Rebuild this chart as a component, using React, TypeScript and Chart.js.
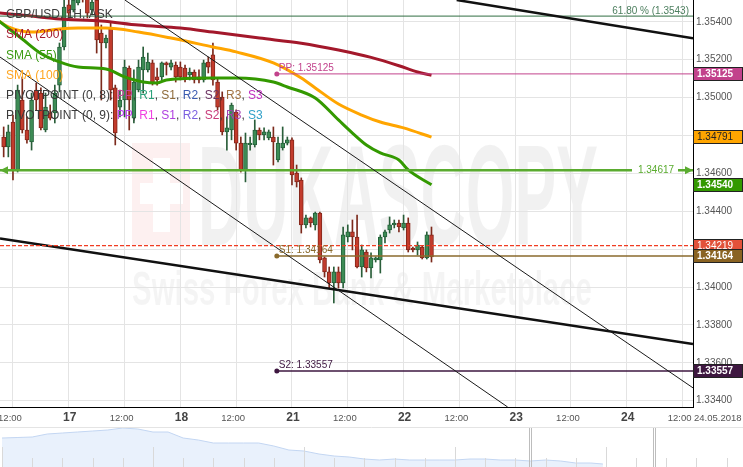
import { useEffect, useRef } from "react";
import { Chart, registerables } from "chart.js";

Chart.register(...registerables);

const FONT = "Arial, 'Liberation Sans', Helvetica, sans-serif";

// ---------- DATA ----------
// hour slots: slot 0 = 16 May 12:00 (weekend hours removed)
const firstCandleSlot = -2;
const candleOpen = [
  1.34792, 1.34739, 1.34871, 1.34618, 1.34987, 1.34829, 1.34766, 1.3504, 1.35024, 1.34829,
  1.34919, 1.34919, 1.35066, 1.35267, 1.35489, 1.35462, 1.35499, 1.35557, 1.35531, 1.35462,
  1.35515, 1.35341, 1.35288, 1.35367, 1.35051, 1.3495, 1.34987, 1.35156, 1.34892, 1.3504,
  1.35146, 1.35146, 1.35183, 1.35109, 1.35109, 1.35183, 1.35161, 1.35172, 1.35161, 1.35156,
  1.35119, 1.35135, 1.35109, 1.35093, 1.35188, 1.35225, 1.35082, 1.35003, 1.34819, 1.34829,
  1.34924, 1.3476, 1.34618, 1.3475, 1.3475, 1.34829, 1.34803, 1.34787, 1.34792, 1.34671,
  1.34734, 1.3476, 1.34777, 1.34602, 1.34565, 1.34328, 1.34365, 1.34328, 1.34391, 1.34154,
  1.3408, 1.34022, 1.3408, 1.34022, 1.34264, 1.34291, 1.34264, 1.34106, 1.34185, 1.34101,
  1.34143, 1.34143, 1.34264, 1.34301, 1.34328, 1.34338, 1.34312, 1.34338, 1.34206, 1.34196,
  1.34211, 1.34154, 1.34275,
];
const candleHigh = [
  1.34845, 1.34855, 1.34908, 1.35066, 1.35109, 1.34898, 1.35024, 1.35077, 1.35051, 1.35024,
  1.34961, 1.35066, 1.35288, 1.35541, 1.35531, 1.35557, 1.35568, 1.35578, 1.35557, 1.35536,
  1.35541, 1.35383, 1.3533, 1.35399, 1.35066, 1.3504, 1.35198, 1.35167, 1.35146, 1.35198,
  1.35267, 1.35235, 1.35198, 1.35156, 1.35188, 1.35188, 1.35198, 1.35188, 1.35188, 1.35172,
  1.35156, 1.35146, 1.35146, 1.35198, 1.35214, 1.35288, 1.35103, 1.3503, 1.34898, 1.34971,
  1.34935, 1.34792, 1.34813, 1.34792, 1.34882, 1.3484, 1.3484, 1.34829, 1.34845, 1.34792,
  1.34845, 1.34792, 1.34787, 1.34644, 1.34576, 1.3438, 1.3437, 1.34396, 1.34396, 1.34159,
  1.34106, 1.34106, 1.34106, 1.34317, 1.34328, 1.34354, 1.3438, 1.34222, 1.34196, 1.3418,
  1.34159, 1.34275, 1.34301, 1.3437, 1.34354, 1.34354, 1.3438, 1.34365, 1.34211, 1.34238,
  1.34216, 1.34291, 1.34317,
];
const candleLow = [
  1.34687, 1.34687, 1.34565, 1.34607, 1.34813, 1.3476, 1.34723, 1.34935, 1.34829, 1.34819,
  1.34882, 1.34866, 1.3503, 1.35251, 1.3542, 1.35452, 1.35489, 1.35504, 1.3542, 1.35436,
  1.35235, 1.34987, 1.35262, 1.34987, 1.3475, 1.34898, 1.34898, 1.34829, 1.34866, 1.3503,
  1.35024, 1.35135, 1.35066, 1.35066, 1.35093, 1.35119, 1.35146, 1.35082, 1.35093, 1.35082,
  1.35093, 1.35077, 1.35077, 1.35082, 1.3513, 1.35066, 1.34935, 1.34803, 1.34723, 1.34777,
  1.34723, 1.34607, 1.34555, 1.34723, 1.34739, 1.34777, 1.34777, 1.34777, 1.34644, 1.3466,
  1.34723, 1.3475, 1.34539, 1.34528, 1.34285, 1.34312, 1.34317, 1.34301, 1.34127, 1.34053,
  1.33995, 1.33916, 1.33995, 1.33995, 1.34238, 1.34196, 1.34101, 1.34053, 1.3408, 1.34048,
  1.34132, 1.34074, 1.34233, 1.34285, 1.34312, 1.34291, 1.34301, 1.34185, 1.34185, 1.34169,
  1.34148, 1.34148, 1.34132,
];
const candleClose = [
  1.34739, 1.34819, 1.34618, 1.3504, 1.34829, 1.34777, 1.34987, 1.34987, 1.3484, 1.3495,
  1.34892, 1.35024, 1.35267, 1.35478, 1.35446, 1.35515, 1.35541, 1.35526, 1.35446, 1.35504,
  1.35304, 1.35288, 1.35314, 1.3504, 1.34813, 1.34987, 1.35161, 1.34987, 1.35082, 1.35161,
  1.35214, 1.35188, 1.35077, 1.35093, 1.35183, 1.35172, 1.35183, 1.35109, 1.35109, 1.35103,
  1.35135, 1.35093, 1.35093, 1.35183, 1.35161, 1.35093, 1.3495, 1.34819, 1.3484, 1.34961,
  1.3476, 1.34618, 1.3476, 1.3476, 1.34829, 1.34803, 1.34819, 1.34819, 1.34766, 1.3476,
  1.3476, 1.34777, 1.34592, 1.34555, 1.34328, 1.34365, 1.34338, 1.34391, 1.34143, 1.3408,
  1.34022, 1.3408, 1.34022, 1.34275, 1.34291, 1.34264, 1.34106, 1.34196, 1.34101, 1.34154,
  1.34154, 1.34264, 1.34291, 1.34328, 1.34338, 1.34317, 1.34338, 1.34196, 1.34196, 1.34222,
  1.34154, 1.34275, 1.34159,
];

const sma200Slots = [-3, 4, 10, 19, 27, 36, 43, 53, 62, 70, 77, 83, 87, 90];
const sma200Values = [1.35447, 1.3543, 1.35415, 1.35404, 1.35383, 1.35367, 1.35346, 1.35314, 1.35287, 1.35251, 1.35212, 1.35168, 1.35135, 1.35118];
const sma100Slots = [-3, -1, 4, 10, 14, 20, 27, 34, 43, 48, 56, 62, 65, 70, 75, 79, 84, 90];
const sma100Values = [1.35404, 1.35373, 1.35346, 1.35362, 1.35367, 1.35367, 1.35346, 1.35314, 1.35267, 1.35241, 1.35183, 1.35103, 1.35051, 1.34966, 1.34908, 1.34871, 1.3484, 1.34791];
const sma55Slots = [-3, 2, 6, 10, 14, 20, 24, 28, 31, 33, 43, 48, 56, 59, 65, 70, 73, 76, 79, 83, 85, 90];
const sma55Values = [1.35404, 1.35309, 1.35233, 1.35188, 1.35161, 1.35151, 1.35109, 1.35082, 1.35077, 1.35093, 1.35103, 1.35103, 1.35082, 1.35056, 1.34998, 1.34882, 1.34813, 1.3475, 1.34708, 1.34671, 1.34618, 1.3454];

const xTickSlots = [0, 12, 24, 36, 48, 60, 72, 84, 96, 108, 120, 132, 144];
const xTickLabels = ["12:00", "17", "12:00", "18", "12:00", "21", "12:00", "22", "12:00", "23", "12:00", "24", "12:00"];
const dateLabel = "24.05.2018";
const yTickValues = [1.334, 1.336, 1.338, 1.34, 1.342, 1.344, 1.346, 1.348, 1.35, 1.352, 1.354];
const xMinSlot = -2.79;
const xMaxSlot = 146.24;
const yMin = 1.33367;
const yMax = 1.35515;

const fibLevel = 1.3543;
const fibText = "61.80 % (1.3543)";
const alertLevel = 1.34617;
const lastPrice = 1.34219;
const pivotStartSlot = 56.74;
const pivotNames = ["PP", "S1", "S2"];
const pivotLevels = [1.35125, 1.34164, 1.33557];

const trendThinUpperSlots = [24.07, 146.24];
const trendThinUpperPrices = [1.35515, 1.33468];
const trendThinLowerSlots = [-2.79, 106.38];
const trendThinLowerPrices = [1.35214, 1.33367];
const trendThickUpperSlots = [95.42, 146.24];
const trendThickUpperPrices = [1.35515, 1.35313];
const trendThickLowerSlots = [-2.79, 146.24];
const trendThickLowerPrices = [1.34257, 1.33699];

const axisMarkerValues = [1.35125, 1.34791, 1.3454, 1.34219, 1.34164, 1.33557];

const navSteps = [0, 0.5, 1, 1.5, 2, 2.5, 3, 3.5, 4, 4.5, 5, 5.5, 6, 6.5, 7, 7.5, 8, 8.5, 9, 9.5, 10, 10.5, 11, 11.5, 12, 12.5, 13, 13.5, 14, 14.5, 15, 15.5, 16, 16.5, 17, 17.5, 18, 18.5, 19, 19.5, 19.9];
const navLevels = [29, 29.5, 30, 33, 34, 35, 36, 37, 39, 38, 35, 35, 29, 27, 24, 24, 24, 24, 21, 17, 16, 13, 11, 10, 8, 7, 8, 7, 7, 7, 7, 8, 8, 7, 7, 6, 7, 6, 4, 4, 3];
const navGridSteps = [0, 1, 2, 3, 4, 5, 6, 7, 8, 9, 10, 11, 12, 13, 14, 15, 16, 17, 18, 19, 20, 21, 22, 23, 24];
const navHandleSteps = [17.45, 21.56];

// ---------- STYLES ----------
const markerStyles = [
  { bg: "#c2428c", fg: "#ffffff", bold: true },
  { bg: "#ffa500", fg: "#222222", bold: false },
  { bg: "#339900", fg: "#ffffff", bold: true },
  { bg: "#e2513a", fg: "#ffffff", bold: false },
  { bg: "#8a6322", fg: "#ffffff", bold: true },
  { bg: "#3e1740", fg: "#ffffff", bold: true },
];
const pivotColors = ["#c2428c", "#8a6a2c", "#3e1740"];
const GRAY = "#3a3a3a";
const legendRows: [string, string][][] = [
  [["GBP/USD, 1H, ASK", GRAY]],
  [["SMA (200)", "#a3182b"]],
  [["SMA (55)", "#3a9a12"]],
  [["SMA (100)", "#ffa620"]],
  [["PIVOTPOINT (0, 8): ", GRAY], ["PP", "#c8449e"], [", ", GRAY], ["R1", "#2aa07a"], [", ", GRAY], ["S1", "#8e6b3a"], [", ", GRAY], ["R2", "#3a5ab0"], [", ", GRAY], ["S2", "#6a3060"], [", ", GRAY], ["R3", "#a07040"], [", ", GRAY], ["S3", "#c030c0"]],
  [["PIVOTPOINT (0, 9): ", GRAY], ["PP", "#c040f0"], [", ", GRAY], ["R1", "#f040e0"], [", ", GRAY], ["S1", "#b040e0"], [", ", GRAY], ["R2", "#7a60e0"], [", ", GRAY], ["S2", "#c83a7a"], [", ", GRAY], ["R3", "#a040b0"], [", ", GRAY], ["S3", "#30a0c8"]],
];
const legendY = [15, 35, 56, 76, 96, 116];

const overlayPlugin = {
  id: "overlay",
  beforeDraw(chart: any) {
    const ctx = chart.ctx;
    ctx.save();
    ctx.fillStyle = "rgba(225,60,60,0.08)";
    ctx.fillRect(132, 143, 58, 102);
    ctx.fillStyle = "#ffffff";
    ctx.fillRect(153, 158, 17, 74);
    ctx.fillRect(140, 183, 43, 21);
    ctx.textBaseline = "alphabetic";
    ctx.textAlign = "left";
    ctx.fillStyle = "rgba(0,0,0,0.055)";
    ctx.font = `bold 142px ${FONT}`;
    ctx.fillText("DUKASCOPY", 198, 245, 400);
    ctx.fillStyle = "rgba(0,0,0,0.045)";
    ctx.font = `bold 48px ${FONT}`;
    ctx.fillText("Swiss Forex Bank & Marketplace", 132, 305, 460);
    ctx.restore();
  },
  afterDatasetsDraw(chart: any) {
    const ctx = chart.ctx;
    const xs = chart.scales.x;
    const ys = chart.scales.y;
    const area = chart.chartArea;
    ctx.save();
    ctx.textBaseline = "middle";
    // fib label
    const fy = ys.getPixelForValue(fibLevel);
    ctx.font = `10px ${FONT}`;
    ctx.fillStyle = "#4d7f5f";
    ctx.textAlign = "right";
    ctx.fillText(fibText, area.right - 4, fy - 5);
    // alert line label + arrows
    const ay = ys.getPixelForValue(alertLevel);
    ctx.fillStyle = "#ffffff";
    ctx.fillRect(area.right - 61, ay - 3, 46, 6);
    ctx.fillStyle = "#5aab2f";
    ctx.textAlign = "center";
    ctx.fillText(alertLevel.toFixed(5), area.right - 37, ay);
    ctx.beginPath();
    ctx.moveTo(area.right, ay);
    ctx.lineTo(area.right - 8, ay - 4);
    ctx.lineTo(area.right - 8, ay + 4);
    ctx.closePath();
    ctx.fill();
    ctx.beginPath();
    ctx.moveTo(area.left, ay);
    ctx.lineTo(area.left + 8, ay - 4);
    ctx.lineTo(area.left + 8, ay + 4);
    ctx.closePath();
    ctx.fill();
    // pivot labels
    const px = xs.getPixelForValue(pivotStartSlot);
    ctx.textAlign = "left";
    ctx.font = `10px ${FONT}`;
    pivotLevels.forEach((lv, i) => {
      ctx.fillStyle = pivotColors[i];
      ctx.fillText(`${pivotNames[i]}: ${lv.toFixed(5)}`, px + 2, ys.getPixelForValue(lv) - 6);
    });
    ctx.restore();
  },
  afterDraw(chart: any) {
    const ctx = chart.ctx;
    const xs = chart.scales.x;
    const ys = chart.scales.y;
    const area = chart.chartArea;
    ctx.save();
    // axis markers
    ctx.textBaseline = "middle";
    ctx.textAlign = "left";
    axisMarkerValues.forEach((v, i) => {
      const st = markerStyles[i];
      const y = Math.round(ys.getPixelForValue(v));
      ctx.fillStyle = st.bg;
      ctx.fillRect(area.right, y - 7, 50, 14);
      ctx.strokeStyle = "#222";
      ctx.lineWidth = 1;
      ctx.strokeRect(area.right + 0.5, y - 6.5, 49, 13);
      ctx.fillStyle = st.fg;
      ctx.font = `${st.bold ? "bold " : ""}10px ${FONT}`;
      ctx.fillText(v.toFixed(5), area.right + 4, y + 0.5);
    });
    // x labels
    const ly = area.bottom + 11;
    xTickSlots.forEach((s, i) => {
      const lab = xTickLabels[i];
      const x = xs.getPixelForValue(s);
      ctx.textAlign = "center";
      if (lab.includes(":")) {
        ctx.font = `9.5px ${FONT}`;
        ctx.fillStyle = "#555";
        ctx.fillText(lab, x - 3, ly);
      } else {
        ctx.font = `bold 12px ${FONT}`;
        ctx.fillStyle = "#444";
        ctx.fillText(lab, x + 1, ly);
      }
    });
    ctx.textAlign = "left";
    ctx.font = `9.5px ${FONT}`;
    ctx.fillStyle = "#555";
    ctx.fillText(dateLabel, area.right + 1, ly);
    // navigator separator
    ctx.strokeStyle = "#e4e4e4";
    ctx.beginPath();
    ctx.moveTo(0, chart.height - 0.5);
    ctx.lineTo(chart.width, chart.height - 0.5);
    ctx.stroke();
    // legend
    ctx.font = `12px ${FONT}`;
    legendRows.forEach((row, r) => {
      let x = 6;
      row.forEach(([t, c]) => {
        ctx.fillStyle = c;
        ctx.fillText(t, x, legendY[r]);
        x += ctx.measureText(t).width;
      });
    });
    ctx.restore();
  },
};

const navPlugin = {
  id: "navgrid",
  afterDatasetsDraw(chart: any) {
    const ctx = chart.ctx;
    const xs = chart.scales.x;
    const h = chart.height;
    ctx.save();
    ctx.strokeStyle = "#d9d9d9";
    ctx.lineWidth = 1;
    navGridSteps.forEach((k) => {
      const x = Math.round(xs.getPixelForValue(k)) + 0.5;
      ctx.beginPath();
      ctx.moveTo(x, k % 5 === 0 ? 19 : 30);
      ctx.lineTo(x, h);
      ctx.stroke();
    });
    ctx.strokeStyle = "#bdbdbd";
    navHandleSteps.forEach((k) => {
      const x = Math.round(xs.getPixelForValue(k)) + 0.5;
      ctx.beginPath();
      ctx.moveTo(x, 0);
      ctx.lineTo(x, h);
      ctx.moveTo(x + 2, 0);
      ctx.lineTo(x + 2, h);
      ctx.stroke();
    });
    ctx.restore();
  },
};

function pts(xs: number[], ys: number[]) {
  return xs.map((x, i) => ({ x, y: ys[i] }));
}

function lineDs(data: any[], color: string, width: number, order: number, extra: any = {}) {
  return {
    type: "line",
    data,
    borderColor: color,
    backgroundColor: color,
    borderWidth: width,
    pointRadius: 0,
    fill: false,
    order,
    ...extra,
  };
}

export default function App() {
  const mainRef = useRef<HTMLCanvasElement | null>(null);
  const navRef = useRef<HTMLCanvasElement | null>(null);

  useEffect(() => {
    document.body.style.margin = "0";
    Chart.defaults.font.family = FONT;
    const slots = candleOpen.map((_, i) => firstCandleSlot + i);
    const up = candleOpen.map((o, i) => candleClose[i] >= o);
    const bodyFill = up.map((u) => (u ? "#3d8c55" : "#c23b2c"));
    const bodyBorder = up.map((u) => (u ? "#24603a" : "#84271b"));
    const wickColor = up.map((u) => (u ? "#2a5e3a" : "#7c2a1c"));

    const datasets: any[] = [
      {
        type: "bar",
        data: slots.map((s, i) => ({ x: s, y: [candleLow[i], candleHigh[i]] })),
        backgroundColor: wickColor,
        barThickness: 1,
        grouped: false,
        order: 11,
      },
      {
        type: "bar",
        data: slots.map((s, i) => ({ x: s, y: [candleOpen[i], candleClose[i]] })),
        backgroundColor: bodyFill,
        borderColor: bodyBorder,
        borderWidth: 1,
        borderSkipped: false,
        barThickness: 4,
        grouped: false,
        order: 10,
      },
      lineDs(pts(sma200Slots, sma200Values), "#a3182b", 3, 6, { cubicInterpolationMode: "monotone" }),
      lineDs(pts(sma100Slots, sma100Values), "#ffa500", 3, 6, { cubicInterpolationMode: "monotone" }),
      lineDs(pts(sma55Slots, sma55Values), "#339900", 3, 5, { cubicInterpolationMode: "monotone" }),
      lineDs(pts([xMinSlot, xMaxSlot], [fibLevel, fibLevel]), "#2f6e42", 1, 4),
      lineDs(pts([xMinSlot, xMaxSlot], [alertLevel, alertLevel]), "#5aab2f", 2.5, 4),
      lineDs(pts([xMinSlot, xMaxSlot], [lastPrice, lastPrice]), "#f03c22", 1.3, 2, { borderDash: [4, 2] }),
      ...pivotLevels.map((lv, i) =>
        lineDs(pts([pivotStartSlot, xMaxSlot], [lv, lv]), pivotColors[i], i === 0 ? 1 : 1.5, 4, {
          pointRadius: [2.5, 0],
          pointBorderWidth: 0,
          pointBackgroundColor: pivotColors[i],
        })
      ),
      lineDs(pts(trendThinUpperSlots, trendThinUpperPrices), "#1a1a1a", 1, 3),
      lineDs(pts(trendThinLowerSlots, trendThinLowerPrices), "#1a1a1a", 1, 3),
      lineDs(pts(trendThickUpperSlots, trendThickUpperPrices), "#111111", 2.5, 3),
      lineDs(pts(trendThickLowerSlots, trendThickLowerPrices), "#111111", 2.5, 3),
    ];

    const main = new Chart(mainRef.current as HTMLCanvasElement, {
      type: "bar",
      data: { datasets },
      options: {
        responsive: false,
        animation: false,
        events: [],
        layout: { padding: 0, autoPadding: false },
        plugins: { legend: { display: false }, tooltip: { enabled: false } },
        scales: {
          x: {
            type: "linear",
            min: xMinSlot,
            max: xMaxSlot,
            offset: false,
            grid: { color: "#e4e4e4", offset: false, drawTicks: false },
            border: { color: "#000", width: 1 },
            ticks: { display: false },
            afterBuildTicks: (s: any) => {
              s.ticks = xTickSlots.map((v) => ({ value: v }));
            },
            afterFit: (s: any) => {
              s.height = 21;
              s.paddingLeft = 0;
              s.paddingRight = 0;
            },
          },
          y: {
            type: "linear",
            position: "right",
            min: yMin,
            max: yMax,
            grid: { color: "#e4e4e4", drawTicks: false },
            border: { color: "#000", width: 1 },
            ticks: {
              padding: 3,
              color: "#555",
              font: { size: 10, family: FONT },
              callback: (v: any) => Number(v).toFixed(5),
            },
            afterBuildTicks: (s: any) => {
              s.ticks = yTickValues.map((v) => ({ value: v }));
            },
            afterFit: (s: any) => {
              s.width = 50;
              s.paddingTop = 0;
              s.paddingBottom = 0;
            },
          },
        },
      } as any,
      plugins: [overlayPlugin],
    } as any);

    const nav = new Chart(navRef.current as HTMLCanvasElement, {
      type: "line",
      data: {
        datasets: [
          {
            data: pts(navSteps, navLevels),
            fill: "start",
            backgroundColor: "#e9f1fc",
            borderColor: "#c3d6f2",
            borderWidth: 1,
            pointRadius: 0,
            tension: 0,
          },
        ],
      },
      options: {
        responsive: false,
        animation: false,
        events: [],
        layout: { padding: 0, autoPadding: false },
        plugins: { legend: { display: false }, tooltip: { enabled: false } },
        scales: {
          x: { type: "linear", display: false, min: -0.066, max: 24.54 },
          y: { display: false, min: 0, max: 39 },
        },
      } as any,
      plugins: [navPlugin],
    } as any);

    return () => {
      main.destroy();
      nav.destroy();
    };
  }, []);

  return (
    <div style={{ position: "relative", width: 743, height: 467, background: "#fff", overflow: "hidden" }}>
      <canvas ref={mainRef} width={743} height={428} style={{ position: "absolute", left: 0, top: 0, display: "block" }} />
      <canvas ref={navRef} width={743} height={39} style={{ position: "absolute", left: 0, top: 428, display: "block" }} />
    </div>
  );
}
